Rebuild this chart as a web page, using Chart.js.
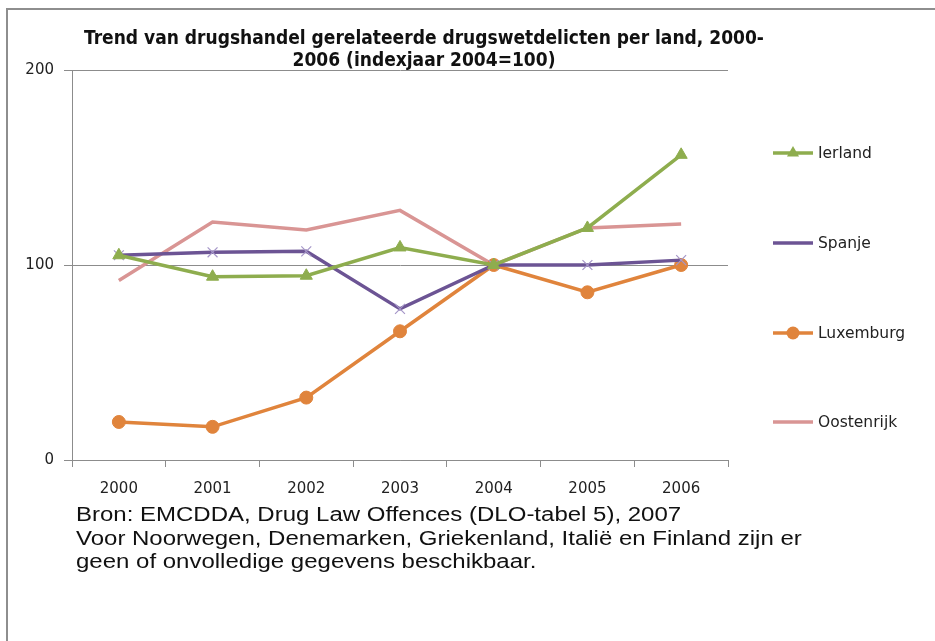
<!DOCTYPE html>
<html>
<head>
<meta charset="utf-8">
<script src="https://cdn.jsdelivr.net/npm/chart.js@4.4.0/dist/chart.umd.min.js"></script>
<style>
  html, body { margin: 0; padding: 0; background: #fff; }
  #wrap { position: relative; width: 935px; height: 641px; overflow: hidden; }
  #frame { position: absolute; left: 6px; top: 8px; right: -10px; bottom: -10px;
           border-left: 2px solid #8e8e8e; border-top: 2px solid #8e8e8e; }
  #c { position: absolute; left: 0; top: 0; }
  #note { position: absolute; left: 76px; top: 503px; font: 20px "Liberation Sans", Arial, sans-serif;
          line-height: 23.5px; color: #111; white-space: nowrap;
          transform: scaleX(1.2); transform-origin: 0 0; }
</style>
</head>
<body>
<div id="wrap">
  <div id="frame"></div>
  <canvas id="c" width="935" height="641"></canvas>
  <div id="note">Bron: EMCDDA, Drug Law Offences (DLO-tabel 5), 2007<br>Voor Noorwegen, Denemarken, Griekenland, Italië en Finland zijn er<br>geen of onvolledige gegevens beschikbaar.</div>
</div>
<script>
'use strict';

// categorieën en reeksen (index 2004 = 100)
const years      = ['2000', '2001', '2002', '2003', '2004', '2005', '2006'];
const ierland    = [105, 94, 94.5, 109, 100, 119, 156.5];
const spanje     = [105, 106.5, 107, 77.5, 100, 100, 102.5];
const luxemburg  = [19.5, 17, 32, 66, 100, 86, 100];
const oostenrijk = [92, 122, 118, 128, 100, 119, 121];
const yTicks     = [0, 100, 200];

const titleLines = ['Trend van drugshandel gerelateerde drugswetdelicten per land, 2000-',
                    '2006 (indexjaar 2004=100)'];

const GRID = '#8c8c8c';

// legenda rechts, handmatig getekend
const sideLegend = {
  id: 'sideLegend',
  afterDraw(chart) {
    const ctx  = chart.ctx;
    const rows = [153, 243, 333, 422];
    ctx.save();
    chart.data.datasets.forEach((ds, i) => {
      const y = rows[i];
      ctx.strokeStyle = ds.borderColor;
      ctx.lineWidth   = ds.borderWidth;
      ctx.beginPath();
      ctx.moveTo(773, y);
      ctx.lineTo(813, y);
      ctx.stroke();
      if (ds.pointRadius > 0) {
        ctx.fillStyle   = ds.pointBackgroundColor;
        ctx.strokeStyle = ds.pointBorderColor;
        ctx.lineWidth   = ds.pointBorderWidth;
        Chart.helpers.drawPoint(ctx, { pointStyle: ds.pointStyle, radius: ds.pointRadius, rotation: 0 }, 793, y);
      }
      ctx.fillStyle    = '#222';
      ctx.font         = '15.5px "DejaVu Sans", sans-serif';
      ctx.textBaseline = 'middle';
      ctx.fillText(ds.label, 818, y + 1);
    });
    ctx.restore();
  },
};

new Chart(document.getElementById('c'), {
  type: 'line',
  data: {
    labels: years,
    datasets: [
      {
        label: 'Ierland', data: ierland,
        borderColor: '#8EAD4E', borderWidth: 3.5,
        pointStyle: 'triangle', pointRadius: 7,
        pointBackgroundColor: '#8EAD4E', pointBorderColor: '#8EAD4E', pointBorderWidth: 1,
      },
      {
        label: 'Spanje', data: spanje,
        borderColor: '#6C5494', borderWidth: 3.5,
        pointStyle: 'crossRot', pointRadius: 7,
        pointBackgroundColor: '#A596C8', pointBorderColor: '#A596C8', pointBorderWidth: 1.2,
      },
      {
        label: 'Luxemburg', data: luxemburg,
        borderColor: '#E0843C', borderWidth: 3.5,
        pointStyle: 'circle', pointRadius: 6.5,
        pointBackgroundColor: '#E0843C', pointBorderColor: '#E0843C', pointBorderWidth: 1,
      },
      {
        label: 'Oostenrijk', data: oostenrijk,
        borderColor: '#D99594', borderWidth: 3.5,
        pointRadius: 0,
        pointBackgroundColor: '#D99594', pointBorderColor: '#D99594', pointBorderWidth: 1,
      },
    ],
  },
  options: {
    responsive: false,
    animation: false,
    layout: { padding: { left: 0, right: 87, top: 0, bottom: 141 } },
    elements: { line: { tension: 0 } },
    plugins: {
      legend: { display: false },
      tooltip: { enabled: false },
      title: {
        display: true,
        text: titleLines,
        color: '#111',
        font: { family: '"DejaVu Sans Condensed", "DejaVu Sans", sans-serif', size: 19, weight: 'bold', lineHeight: '22px' },
        padding: { top: 28, bottom: -2 },
      },
    },
    scales: {
      x: {
        offset: true,
        grid: { offset: true, drawOnChartArea: false, tickLength: 7, color: GRID },
        border: { color: GRID },
        ticks: { color: '#222', padding: 13, font: { family: '"DejaVu Sans", sans-serif', size: 15 } },
        afterFit: s => { s.height = 40; },
      },
      y: {
        min: 0, max: 200,
        afterBuildTicks: s => { s.ticks = yTicks.map(v => ({ value: v })); },
        grid: { color: GRID, tickLength: 8 },
        border: { color: GRID },
        ticks: { color: '#222', padding: 10, font: { family: '"DejaVu Sans", sans-serif', size: 15 } },
        afterFit: s => { s.width = 72; },
      },
      yPad: {
        position: 'right',
        grid: { display: false },
        border: { display: false },
        ticks: { display: false },
        afterFit: s => { s.width = 120; },
      },
    },
  },
  plugins: [sideLegend],
});
</script>
</body>
</html>
